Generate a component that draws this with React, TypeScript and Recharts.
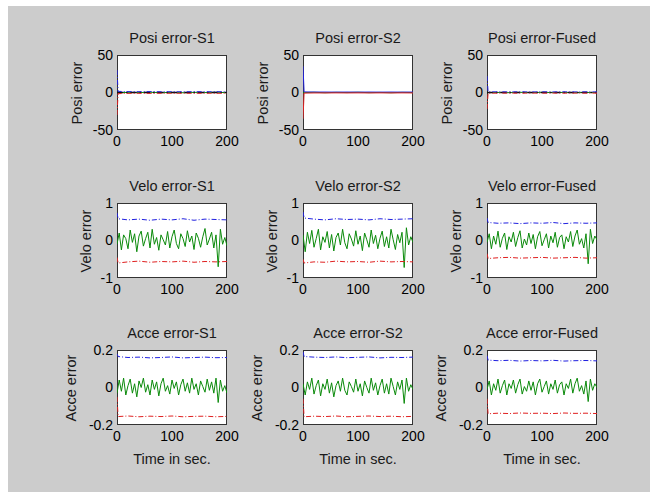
import React from 'react';
import { LineChart, Line, XAxis, YAxis } from 'recharts';

// sample times for the error traces and the covariance bounds
const TIME = [0, 4, 8, 12, 16, 20, 24, 28, 32, 36, 40, 44, 48, 52, 56, 60, 64, 68, 72, 76, 80, 84, 88, 92, 96, 100, 104, 108, 112, 116, 120, 124, 128, 132, 136, 140, 144, 148, 152, 156, 160, 164, 168, 172, 176, 180, 184, 188, 192, 196, 200];
const BOUND_TIME = [0, 2, 20, 40, 60, 80, 100, 120, 140, 160, 180, 200];
const ZERO_TIME = [0, 200];
const ZERO_LINE = [0, 0];

const X_TICKS = [0, 100, 200];
const POSI_TICKS = [-50, 0, 50];
const VELO_TICKS = [-1, 0, 1];
const ACCE_TICKS = [-0.2, 0, 0.2];

// position error
const posiErrS1 = [0.4, -0.3, 0.2, -0.1, 0.3, -0.2, 0.1, -0.3, 0.2, -0.1, 0.3, -0.2];
const posiUpS1 = [30, 1.5, 1.2, 1.1, 1.2, 1.0, 1.1, 1.0, 1.1, 1.0, 1.1, 1.0];
const posiLowS1 = [-30, -1.5, -1.2, -1.1, -1.2, -1.0, -1.1, -1.0, -1.1, -1.0, -1.1, -1.0];
const posiErrS2 = [0.5, -0.2, 0.3, -0.3, 0.2, -0.1, 0.3, -0.2, 0.1, -0.3, 0.2, -0.1];
const posiUpS2 = [35, 0.8, 0.6, 0.6, 0.5, 0.6, 0.5, 0.6, 0.5, 0.6, 0.5, 0.6];
const posiLowS2 = [-35, -0.8, -0.6, -0.6, -0.5, -0.6, -0.5, -0.6, -0.5, -0.6, -0.5, -0.6];
const posiErrF = [0.3, -0.2, 0.1, -0.2, 0.2, -0.1, 0.2, -0.1, 0.1, -0.2, 0.1, -0.1];
const posiUpF = [22, 1.0, 0.9, 0.8, 0.9, 0.8, 0.9, 0.8, 0.9, 0.8, 0.9, 0.8];
const posiLowF = [-22, -1.0, -0.9, -0.8, -0.9, -0.8, -0.9, -0.8, -0.9, -0.8, -0.9, -0.8];

// velocity error
const veloErrS1 = [-0.1, 0.2, -0.25, 0.15, 0.05, -0.22, 0.28, -0.05, 0.18, -0.3, 0.12, 0.25, -0.15, 0.05, 0.22, -0.2, 0.3, -0.1, 0.08, -0.26, 0.15, 0.02, -0.12, 0.24, -0.2, 0.1, 0.28, -0.08, -0.22, 0.18, 0.05, -0.16, 0.26, -0.04, 0.12, -0.24, 0.2, 0.06, -0.18, 0.1, 0.32, -0.12, 0.04, 0.22, -0.2, 0.15, -0.7, 0.3, -0.1, 0.08, -0.14];
const veloUpS1 = [0.74, 0.58, 0.55, 0.57, 0.54, 0.57, 0.55, 0.58, 0.54, 0.57, 0.56, 0.55];
const veloLowS1 = [-0.45, -0.6, -0.57, -0.55, -0.58, -0.56, -0.57, -0.55, -0.58, -0.56, -0.57, -0.56];
const veloErrS2 = [0.15, -0.3, 0.22, -0.08, 0.27, -0.18, 0.05, 0.3, -0.25, 0.1, -0.05, 0.24, -0.2, 0.16, -0.28, 0.08, 0.2, -0.12, 0.3, -0.06, -0.22, 0.18, 0.04, -0.15, 0.26, -0.1, 0.12, -0.27, 0.2, 0.02, -0.18, 0.28, -0.08, 0.14, -0.22, 0.06, 0.25, -0.16, 0.1, -0.2, 0.3, 0.02, -0.24, 0.16, -0.06, 0.22, -0.72, 0.34, -0.12, 0.1, -0.05];
const veloUpS2 = [0.76, 0.6, 0.57, 0.55, 0.58, 0.56, 0.57, 0.55, 0.58, 0.56, 0.57, 0.58];
const veloLowS2 = [-0.5, -0.6, -0.57, -0.58, -0.55, -0.57, -0.56, -0.58, -0.55, -0.57, -0.56, -0.57];
const veloErrF = [-0.05, 0.18, -0.22, 0.12, -0.1, 0.25, -0.18, 0.06, 0.2, -0.24, 0.1, -0.04, 0.22, -0.16, 0.08, 0.26, -0.2, 0.04, -0.12, 0.2, -0.08, 0.16, -0.22, 0.1, 0.24, -0.14, 0.02, 0.18, -0.2, 0.12, -0.06, 0.22, -0.18, 0.08, 0.15, -0.22, 0.1, -0.04, 0.24, -0.16, 0.12, 0.28, -0.1, 0.05, -0.2, 0.18, -0.62, 0.3, -0.08, 0.12, 0.02];
const veloUpF = [0.6, 0.48, 0.46, 0.47, 0.45, 0.47, 0.46, 0.48, 0.45, 0.47, 0.46, 0.47];
const veloLowF = [-0.35, -0.48, -0.46, -0.45, -0.47, -0.46, -0.45, -0.47, -0.46, -0.45, -0.47, -0.46];

// acceleration error
const acceErrS1 = [-0.03, 0.04, -0.02, 0.05, -0.04, 0.01, 0.045, -0.03, 0.02, -0.05, 0.035, 0.0, 0.05, -0.025, 0.015, -0.04, 0.04, -0.01, 0.03, -0.045, 0.02, 0.05, -0.02, 0.01, -0.035, 0.04, -0.005, 0.03, -0.04, 0.015, 0.045, -0.02, 0.025, -0.03, 0.05, -0.01, 0.02, -0.04, 0.035, 0.005, -0.025, 0.045, -0.015, 0.03, -0.03, 0.05, -0.08, 0.04, -0.02, 0.01, -0.03];
const acceUpS1 = [0.18, 0.165, 0.16, 0.162, 0.158, 0.16, 0.163, 0.158, 0.16, 0.162, 0.159, 0.16];
const acceLowS1 = [-0.05, -0.155, -0.152, -0.156, -0.153, -0.155, -0.152, -0.156, -0.154, -0.153, -0.156, -0.154];
const acceErrS2 = [0.02, -0.04, 0.03, -0.01, 0.05, -0.035, 0.01, 0.04, -0.045, 0.02, -0.01, 0.045, -0.03, 0.025, -0.05, 0.01, 0.035, -0.02, 0.05, -0.015, -0.04, 0.03, 0.005, -0.025, 0.045, -0.02, 0.02, -0.045, 0.035, 0.0, -0.03, 0.05, -0.015, 0.025, -0.04, 0.01, 0.045, -0.03, 0.02, -0.035, 0.05, 0.005, -0.04, 0.03, -0.01, 0.04, -0.085, 0.05, -0.02, 0.015, -0.01];
const acceUpS2 = [0.19, 0.165, 0.162, 0.16, 0.163, 0.159, 0.161, 0.163, 0.158, 0.161, 0.16, 0.162];
const acceLowS2 = [-0.06, -0.156, -0.153, -0.155, -0.152, -0.156, -0.154, -0.152, -0.155, -0.153, -0.156, -0.154];
const acceErrF = [-0.01, 0.035, -0.04, 0.02, -0.015, 0.045, -0.03, 0.01, 0.04, -0.04, 0.02, -0.005, 0.04, -0.03, 0.015, 0.045, -0.035, 0.005, -0.02, 0.035, -0.015, 0.03, -0.04, 0.02, 0.045, -0.025, 0.005, 0.035, -0.035, 0.02, -0.01, 0.04, -0.03, 0.015, 0.03, -0.04, 0.02, -0.005, 0.045, -0.03, 0.02, 0.05, -0.02, 0.01, -0.035, 0.035, -0.075, 0.045, -0.015, 0.02, 0.0];
const acceUpF = [0.17, 0.146, 0.143, 0.145, 0.141, 0.144, 0.142, 0.145, 0.141, 0.143, 0.144, 0.142];
const acceLowF = [-0.06, -0.14, -0.137, -0.139, -0.136, -0.138, -0.137, -0.139, -0.136, -0.138, -0.137, -0.139];

// page layout (pixels, page coordinates)
const ORIGIN_X = 8;
const ORIGIN_Y = 6;
const COL_LEFT = [117, 303, 487];
const ROW_TOP = [55, 203, 350];
const BOX_W = 110;
const BOX_H = 75;
const Y_AXIS_W = 40;
const MARGIN_TOP = 12;
const MARGIN_RIGHT = 24;
const X_AXIS_H = 30;
const FONT = '"Liberation Sans", Arial, Helvetica, sans-serif';
const DASH_DOT = '5 2 1 2';
const FIG_BG = '#cccccc';

type Pt = { t: number; v: number };
const toPoints = (ts: number[], vs: number[]): Pt[] => ts.map((t, i) => ({ t, v: vs[i] }));

interface PanelDef {
  title: string;
  yLabel: string;
  labelOffset: number;
  ticks: number[];
  err: number[];
  errTime: number[];
  up: number[];
  low: number[];
  zero?: boolean;
  boundDash?: string;
}

const ROWS: PanelDef[][] = [
  [
    { title: 'Posi error-S1', yLabel: 'Posi error', labelOffset: 40, ticks: POSI_TICKS, err: posiErrS1, errTime: BOUND_TIME, up: posiUpS1, low: posiLowS1, zero: true },
    { title: 'Posi error-S2', yLabel: 'Posi error', labelOffset: 40, ticks: POSI_TICKS, err: posiErrS2, errTime: BOUND_TIME, up: posiUpS2, low: posiLowS2, boundDash: '0' },
    { title: 'Posi error-Fused', yLabel: 'Posi error', labelOffset: 40, ticks: POSI_TICKS, err: posiErrF, errTime: BOUND_TIME, up: posiUpF, low: posiLowF, zero: true },
  ],
  [
    { title: 'Velo error-S1', yLabel: 'Velo error', labelOffset: 31, ticks: VELO_TICKS, err: veloErrS1, errTime: TIME, up: veloUpS1, low: veloLowS1 },
    { title: 'Velo error-S2', yLabel: 'Velo error', labelOffset: 31, ticks: VELO_TICKS, err: veloErrS2, errTime: TIME, up: veloUpS2, low: veloLowS2 },
    { title: 'Velo error-Fused', yLabel: 'Velo error', labelOffset: 31, ticks: VELO_TICKS, err: veloErrF, errTime: TIME, up: veloUpF, low: veloLowF },
  ],
  [
    { title: 'Acce error-S1', yLabel: 'Acce error', labelOffset: 46, ticks: ACCE_TICKS, err: acceErrS1, errTime: TIME, up: acceUpS1, low: acceLowS1 },
    { title: 'Acce error-S2', yLabel: 'Acce error', labelOffset: 46, ticks: ACCE_TICKS, err: acceErrS2, errTime: TIME, up: acceUpS2, low: acceLowS2 },
    { title: 'Acce error-Fused', yLabel: 'Acce error', labelOffset: 46, ticks: ACCE_TICKS, err: acceErrF, errTime: TIME, up: acceUpF, low: acceLowF },
  ],
];

const tickStyle = { fontSize: 14, fill: '#000', fontFamily: FONT };
const textBox = { fontSize: 14.5, lineHeight: '16px', color: '#1a1a1a', whiteSpace: 'nowrap' as const };

function Panel({ def, row, col, showTime }: { def: PanelDef; row: number; col: number; showTime: boolean }) {
  const boxLeft = COL_LEFT[col] - ORIGIN_X;
  const boxTop = ROW_TOP[row] - ORIGIN_Y;
  const domain = [def.ticks[0], def.ticks[def.ticks.length - 1]];
  const dash = def.boundDash ?? DASH_DOT;

  return (
    <>
      <div
        style={{
          position: 'absolute', left: boxLeft, top: boxTop, width: BOX_W, height: BOX_H,
          background: '#fff', border: '1px solid #333', boxSizing: 'border-box',
        }}
      />
      <div style={{ ...textBox, position: 'absolute', left: boxLeft - 35, top: boxTop - 25, width: BOX_W + 70, textAlign: 'center' }}>
        {def.title}
      </div>
      <div
        style={{
          ...textBox, position: 'absolute', left: boxLeft - def.labelOffset - 50, top: boxTop + BOX_H / 2 - 8,
          width: 100, height: 16, textAlign: 'center', transform: 'rotate(-90deg)',
        }}
      >
        {def.yLabel}
      </div>
      {showTime && (
        <div style={{ ...textBox, position: 'absolute', left: boxLeft - 35, top: boxTop + BOX_H + 26, width: BOX_W + 70, textAlign: 'center' }}>
          Time in sec.
        </div>
      )}
      <div style={{ position: 'absolute', left: boxLeft - Y_AXIS_W, top: boxTop - MARGIN_TOP }}>
        <LineChart
          width={Y_AXIS_W + BOX_W + MARGIN_RIGHT}
          height={MARGIN_TOP + BOX_H + X_AXIS_H}
          margin={{ top: MARGIN_TOP, right: MARGIN_RIGHT, bottom: 0, left: 0 }}
        >
          <XAxis
            dataKey="t" type="number" domain={[0, 200]} ticks={X_TICKS} allowDataOverflow
            height={X_AXIS_H} axisLine={false} tickLine={false} tickSize={0} tickMargin={6} tick={tickStyle}
            interval={0}
          />
          <YAxis
            dataKey="v" type="number" domain={domain} ticks={def.ticks} allowDataOverflow
            width={Y_AXIS_W} axisLine={false} tickLine={false} tickSize={0} tickMargin={4} tick={tickStyle}
            interval={0}
          />
          <Line data={toPoints(def.errTime, def.err)} dataKey="v" stroke="#0a8a0a" strokeWidth={1} dot={false} isAnimationActive={false} />
          {def.zero && (
            <Line data={toPoints(ZERO_TIME, ZERO_LINE)} dataKey="v" stroke="#111" strokeWidth={1.5} strokeDasharray="6 3 1.5 3" dot={false} isAnimationActive={false} />
          )}
          <Line data={toPoints(BOUND_TIME, def.up)} dataKey="v" stroke="#2020e0" strokeWidth={1} strokeDasharray={dash} dot={false} isAnimationActive={false} />
          <Line data={toPoints(BOUND_TIME, def.low)} dataKey="v" stroke="#e02020" strokeWidth={1} strokeDasharray={dash} dot={false} isAnimationActive={false} />
        </LineChart>
      </div>
    </>
  );
}

export default function App() {
  return (
    <>
      {/* figure colour fills the whole viewport; white strips reproduce the screenshot's top/left edge */}
      <style>{`html, body { background: ${FIG_BG}; overflow: hidden; }`}</style>
      <div style={{ position: 'fixed', left: 0, top: 0, width: '100vw', height: ORIGIN_Y, background: '#fff' }} />
      <div style={{ position: 'fixed', left: 0, top: 0, width: ORIGIN_X, height: '100vh', background: '#fff' }} />
      <div
        style={{
          position: 'absolute', left: ORIGIN_X, top: ORIGIN_Y, width: 650 - ORIGIN_X, height: 492 - ORIGIN_Y,
          background: FIG_BG, fontFamily: FONT,
        }}
      >
        {ROWS.map((defs, r) =>
          defs.map((def, c) => (
            <Panel key={`${r}-${c}`} def={def} row={r} col={c} showTime={r === 2} />
          ))
        )}
      </div>
    </>
  );
}
